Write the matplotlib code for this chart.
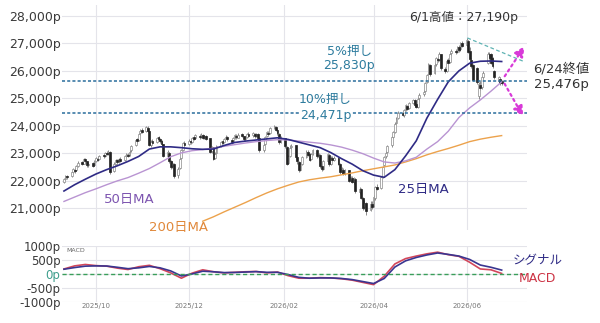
import matplotlib
matplotlib.use('Agg')

import matplotlib.pyplot as plt
import matplotlib.dates as mdates
import numpy as np
import pandas as pd

plt.rcParams['font.family'] = ['DejaVu Sans', 'Noto Sans CJK JP']

# daily sessions
dates = pd.bdate_range('2025-09-10', '2026-06-24')

opens = [21950,22060,22160,22150,22320,22400,22380,22540,22660,22620,
         22790,22700,22560,22640,22560,22720,22800,22780,22920,22900,
         23020,22990,23050,22350,22620,22740,22700,22790,22740,22900,
         22950,22920,23100,23300,23500,23480,23720,23850,23800,23930,
         23800,23300,23450,23400,23580,23500,23450,23330,22900,23020,
         22700,22520,22620,22200,22450,22820,23120,23360,23320,23460,
         23420,23580,23540,23640,23600,23650,23580,23610,23540,23080,
         23220,22820,23000,23270,23430,23400,23540,23590,23480,23420,
         23560,23640,23570,23690,23610,23500,23600,23690,23650,23700,
         23630,23700,23560,23120,23320,23620,23750,23720,23910,23970,
         23850,23700,23400,23540,23240,22640,22900,23220,23280,22850,
         22680,22400,22620,22870,23040,22960,22780,22970,23110,22870,
         22940,22540,22420,22720,22950,22620,22830,22750,22830,22600,
         22310,22400,22260,22380,22020,22100,21960,22060,21600,21680,
         21360,21020,21180,20920,21160,21080,21380,21780,21720,22140,
         22560,22880,23040,23280,23600,23780,24100,24280,24470,24380,
         24580,24720,24640,24840,24920,24780,24700,25000,25140,25260,
         25580,25900,26200,25920,26240,26440,26400,26600,26080,26000,
         26380,26320,26640,26730,26700,26880,26780,27020,26940,27100,
         26720,26400,26200,26100,25100,25500,25400,25760,26300,26620,
         26600,26480,26000,25640,25700,25620]
highs = [22080,22200,22220,22330,22460,22450,22560,22700,22720,22820,
         22830,22730,22680,22690,22740,22860,22880,22940,22980,23050,
         23080,23100,23080,22680,22800,22800,22840,22850,22920,23010,
         23020,23100,23300,23520,23560,23740,23880,23920,24000,23990,
         23820,23480,23500,23600,23640,23560,23480,23350,23100,23060,
         22760,22700,22650,22500,22850,23150,23420,23440,23500,23520,
         23600,23640,23700,23700,23720,23690,23680,23650,23560,23260,
         23240,23050,23300,23460,23480,23560,23650,23640,23520,23580,
         23700,23690,23720,23740,23640,23620,23740,23760,23760,23740,
         23750,23720,23580,23360,23640,23800,23820,23950,24040,24000,
         23880,23720,23620,23570,23260,22950,23280,23320,23300,22900,
         22720,22660,22900,23120,23100,23000,23020,23150,23140,23020,
         22960,22600,22760,23010,22980,22880,22880,22900,22860,22640,
         22480,22450,22440,22400,22180,22150,22140,22100,21760,21720,
         21400,21280,21220,21250,21240,21460,21800,21860,22180,22520,
         22900,23080,23300,23620,23820,24120,24300,24520,24540,24620,
         24780,24760,24870,24990,24960,24820,25050,25180,25300,25600,
         25900,26300,26260,26280,26520,26520,26680,26620,26140,26420,
         26460,26680,26800,26800,26900,26940,27040,27080,27190,27140,
         26860,26460,26240,26140,25580,25620,25820,25980,26680,26700,
         26650,26520,26040,25800,25760,25680]
lows = [21900,22010,22060,22120,22280,22290,22350,22500,22560,22590,
        22650,22500,22480,22500,22520,22680,22720,22740,22830,22860,
        22930,22950,22250,22300,22560,22620,22650,22690,22700,22850,
        22860,22880,23060,23260,23380,23450,23680,23720,23760,23780,
        23250,23220,23320,23360,23450,23380,23260,22850,22820,22650,
        22420,22450,22080,22100,22420,22780,23080,23240,23280,23350,
        23380,23470,23500,23530,23550,23500,23520,23470,23020,23000,
        22760,22780,22960,23220,23330,23360,23500,23450,23350,23380,
        23520,23530,23540,23580,23460,23460,23560,23600,23600,23570,
        23580,23520,23040,23060,23280,23580,23650,23690,23870,23820,
        23660,23340,23360,23200,22560,22600,22860,23150,22800,22620,
        22320,22340,22580,22820,22900,22700,22740,22930,22840,22800,
        22460,22360,22380,22680,22540,22580,22700,22700,22580,22240,
        22260,22200,22200,21950,21960,21900,21880,21560,21520,21320,
        20940,20960,20760,20880,20980,21040,21300,21640,21680,22100,
        22520,22840,23000,23240,23560,23740,24060,24240,24340,24330,
        24520,24560,24600,24780,24700,24640,24660,24950,25080,25220,
        25540,25860,25820,25880,26180,26320,26360,26020,25920,25960,
        26240,26280,26580,26620,26660,26700,26740,26860,26900,26640,
        26380,26100,25620,25520,24960,25300,25340,25700,26260,26420,
        26260,26100,25700,25560,25500,25480]
closes = [22040,22150,22120,22300,22420,22340,22520,22650,22600,22780,
          22700,22560,22620,22540,22700,22820,22760,22900,22880,23010,
          22980,23060,22300,22600,22760,22680,22800,22720,22880,22960,
          22900,23050,23250,23480,23450,23700,23820,23780,23950,23820,
          23300,23420,23380,23560,23500,23440,23320,22880,23050,22700,
          22500,22650,22180,22420,22800,23100,23380,23300,23450,23400,
          23560,23520,23650,23580,23670,23560,23620,23520,23060,23200,
          22800,22980,23250,23420,23380,23520,23600,23500,23400,23540,
          23650,23580,23680,23620,23500,23580,23700,23640,23720,23620,
          23700,23560,23100,23300,23600,23760,23700,23900,23980,23860,
          23720,23400,23560,23250,22620,22880,23200,23260,22860,22700,
          22380,22600,22850,23050,22950,22760,22960,23100,22880,22950,
          22520,22420,22700,22960,22600,22820,22760,22840,22620,22300,
          22420,22250,22380,22000,22120,21950,22080,21620,21700,21380,
          21000,21200,20900,21150,21050,21400,21760,21700,22120,22480,
          22860,23020,23260,23580,23760,24080,24240,24480,24400,24560,
          24740,24620,24820,24940,24760,24700,24980,25120,25240,25560,
          25850,26250,25900,26220,26460,26380,26620,26100,25980,26360,
          26300,26620,26740,26680,26860,26760,27000,26920,27120,26700,
          26420,26180,25680,25580,25520,25380,25780,25920,26600,26480,
          26300,26160,25760,25760,25560,25560]

wk_dates = dates[::5]
ma25 = [21620,21850,22050,22240,22400,22540,22700,22880,23150,23230,
        23230,23200,23160,23140,23150,23280,23390,23440,23480,23520,
        23560,23500,23400,23300,23200,23020,22800,22600,22360,22200,
        22120,22400,22900,23450,24280,24960,25600,26000,26280,26350,
        26360,26340]
ma50 = [21240,21400,21560,21700,21850,21990,22110,22270,22440,22650,
        22870,23010,23090,23130,23180,23250,23310,23370,23420,23460,
        23490,23480,23440,23400,23360,23300,23220,23110,22980,22820,
        22680,22640,22720,22850,23150,23420,23800,24300,24650,24940,
        25260,25600]
ma200 = [np.nan] * 13 + [20520,20680,20860,21030,21200,21380,21550,21700,21830,21950,
                         22030,22090,22140,22210,22280,22360,22430,22500,22570,22680,
                         22800,22940,23060,23170,23290,23420,23510,23580,23640]
macd = [180,290,340,300,280,210,160,260,310,190,
        40,-150,30,150,80,40,60,80,90,40,
        70,-60,-150,-150,-130,-140,-170,-220,-300,-380,
        -80,360,550,640,720,780,690,630,420,180,
        150,20]
signal = [170,230,280,290,285,240,190,220,270,220,
          110,-70,0,100,80,50,55,70,85,60,
          60,-20,-120,-150,-140,-140,-160,-200,-270,-340,
          -160,250,470,590,680,750,700,640,520,320,
          240,140]

month_ticks = ['2025-10-01', '2025-12-01', '2026-02-01', '2026-04-01', '2026-06-01']
month_labels = ['2025/10', '2025/12', '2026/02', '2026/04', '2026/06']

peak_date, peak_val = '2026-06-01', 27190
pull5, pull10 = 25640, 24450   # dashed levels as drawn

x = mdates.date2num(dates)
xw = mdates.date2num(wk_dates)
o = np.array(opens); h = np.array(highs); l = np.array(lows); c = np.array(closes)
up = c >= o

def d(s):
    return mdates.date2num(pd.Timestamp(s))

xmin, xmax = d('2025-09-08') + 0.7, d('2026-07-10') + 0.6
grid_c = '#e4e4ea'

fig = plt.figure(figsize=(6, 3.23), dpi=100)
ax = fig.add_axes([0.1033, 0.288, 0.775, 0.6965])
ax2 = fig.add_axes([0.1033, 0.065, 0.775, 0.1734])

# ---- price panel
ax.vlines(x, l, h, color='#777777', lw=0.6, zorder=2)
ax.bar(x[up], (c - o)[up], bottom=o[up], width=1.2, color='white',
       edgecolor='#8a8a8a', lw=0.5, zorder=3)
ax.bar(x[~up], (o - c)[~up], bottom=c[~up], width=1.2, color='#222222',
       edgecolor='#222222', lw=0.5, zorder=3)

ax.plot(xw, ma200, color='#eca24c', lw=1.0, zorder=4)
ax.plot(xw, ma50, color='#b994d2', lw=1.0, zorder=4)
ax.plot(xw, ma25, color='#2f2b85', lw=1.2, zorder=5)

ax.axhline(pull5, color='#2a6d9c', ls=(0, (2, 1.4)), lw=1.1, zorder=6)
ax.axhline(pull10, color='#2a6d9c', ls=(0, (2, 1.4)), lw=1.1, zorder=6)

ax.plot([d(peak_date) + 0.5, d('2026-07-09')], [27200, 26330],
        color='#5fb3b3', ls=(0, (3, 2)), lw=0.9, zorder=6)
arrow = dict(arrowstyle='-|>', color='#d83ad8', ls=':', lw=1.6, mutation_scale=15)
ax.annotate('', xy=(d('2026-07-10'), 26980), xytext=(d('2026-06-25'), 25720),
            arrowprops=arrow, zorder=7)
ax.annotate('', xy=(d('2026-07-09'), 24250), xytext=(d('2026-06-25'), 25620),
            arrowprops=arrow, zorder=7)

ax.set_xlim(xmin, xmax)
ax.set_ylim(20200, 28400)
yt = list(range(21000, 28001, 1000))
ax.set_yticks(yt)
ax.set_yticklabels([f'{v:,}p' for v in yt], fontsize=9, color='#3a3a3a')
ax.set_xticks([d(m) for m in month_ticks])
ax.set_xticklabels([])
ax.grid(color=grid_c, lw=0.8)
ax.set_axisbelow(True)
ax.tick_params(length=0, pad=1)
for s in ax.spines.values():
    s.set_visible(False)

# ---- MACD panel
ax2.plot(xw, signal, color='#3a3590', lw=1.2, zorder=4)
ax2.plot(xw, macd, color='#d2465a', lw=1.2, zorder=3)
ax2.axhline(0, color='#3a9e5a', ls=(0, (3, 2)), lw=1.0, zorder=5)
ax2.set_xlim(xmin, xmax)
ax2.set_ylim(-1000, 1000)
mt = [-1000, -500, 0, 500, 1000]
ax2.set_yticks(mt)
ax2.set_yticklabels([f'{v}p' for v in mt], fontsize=8.5, color='#3a3a3a')
ax2.get_yticklabels()[2].set_color('#3d9e8c')
ax2.set_xticks([d(m) for m in month_ticks])
ax2.set_xticklabels(month_labels, fontsize=5, color='#777777')
ax2.grid(color=grid_c, lw=0.8)
ax2.set_axisbelow(True)
ax2.tick_params(length=0, pad=1)
for s in ax2.spines.values():
    s.set_visible(False)

# ---- annotations (pixel positions of the reference)
def ft(px, py, s, **kw):
    fig.text(px / 600, 1 - py / 323, s, ha='center', va='center', **kw)

ft(464, 17, '6/1高値：27,190p', fontsize=9, color='#333333')
ft(561, 69, '6/24終値', fontsize=9.5, color='#333333')
ft(561, 85, '25,476p', fontsize=9.5, color='#333333')
ft(349, 52, '5%押し', fontsize=9, color='#2e7c9e')
ft(349, 66, '25,830p', fontsize=9, color='#2e7c9e')
ft(325, 100, '10%押し', fontsize=9, color='#2e7c9e')
ft(326, 115, '24,471p', fontsize=9, color='#2e7c9e',
   bbox=dict(facecolor='white', edgecolor='none', pad=0.5))
ft(129, 200, '50日MA', fontsize=9.5, color='#7d55b0')
ft(178, 228, '200日MA', fontsize=9.5, color='#e0883a')
ft(423, 190, '25日MA', fontsize=9.5, color='#2f2b85')
ft(538, 261, 'シグナル', fontsize=9, color='#2f2b85')
ft(537, 279, 'MACD', fontsize=9, color='#cc3344')
ft(76, 250, 'MACD', fontsize=4.5, color='#666666')

plt.savefig('out.png', dpi=100)
